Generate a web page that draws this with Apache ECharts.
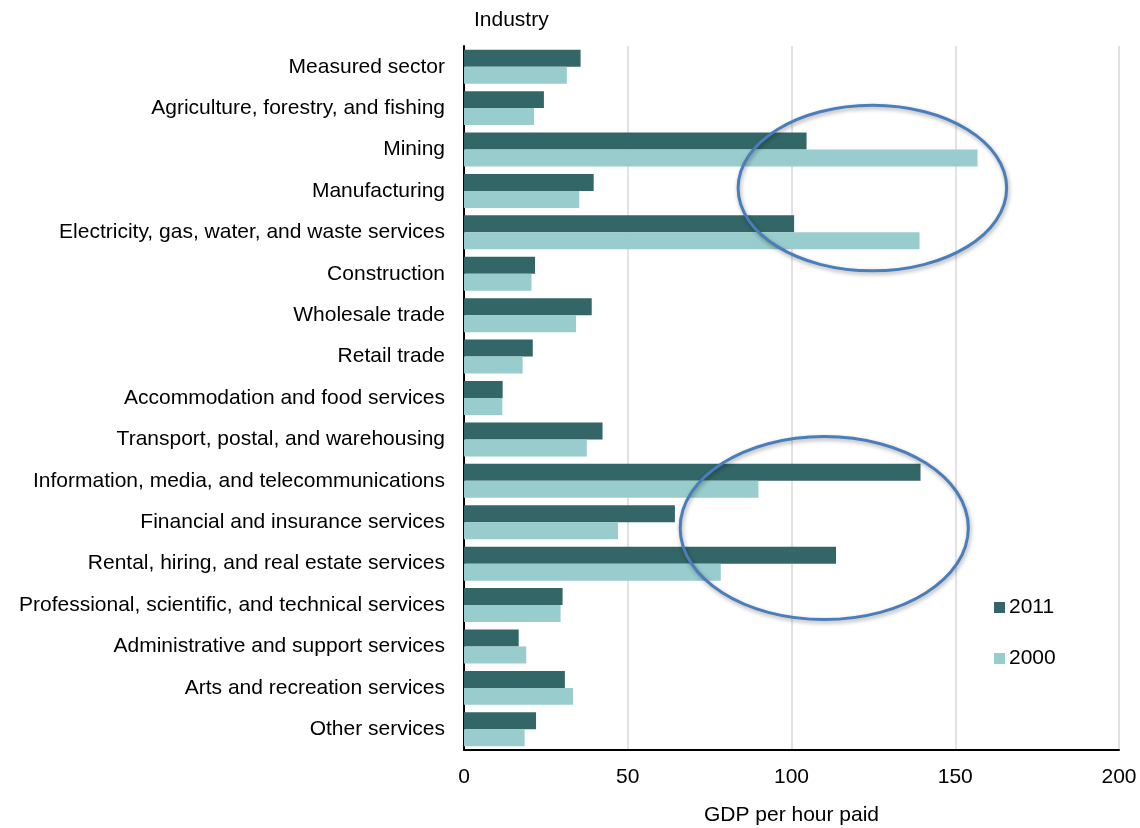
<!DOCTYPE html>
<html>
<head>
<meta charset="utf-8">
<script src="https://cdn.jsdelivr.net/npm/echarts@6/dist/echarts.min.js"></script>
<style>
  html, body { margin: 0; padding: 0; background: #fff; }
  #chart { width: 1140px; height: 828px; }
</style>
</head>
<body>
<div id="chart"></div>
<script>
// Industries, listed top to bottom
const industries = [
  'Measured sector',
  'Agriculture, forestry, and fishing',
  'Mining',
  'Manufacturing',
  'Electricity, gas, water, and waste services',
  'Construction',
  'Wholesale trade',
  'Retail trade',
  'Accommodation and food services',
  'Transport, postal, and warehousing',
  'Information, media, and telecommunications',
  'Financial and insurance services',
  'Rental, hiring, and real estate services',
  'Professional, scientific, and technical services',
  'Administrative and support services',
  'Arts and recreation services',
  'Other services'
];

// GDP per hour paid
const gdp2011 = [35.6, 24.4, 104.6, 39.6, 100.8, 21.7, 39.0, 21.0, 11.8, 42.3, 139.4, 64.4, 113.6, 30.1, 16.7, 30.8, 22.0];
const gdp2000 = [31.4, 21.4, 156.8, 35.2, 139.1, 20.6, 34.2, 17.9, 11.7, 37.5, 89.9, 47.0, 78.4, 29.5, 19.0, 33.3, 18.5];

const seriesNames = ['2011', '2000'];
const xTicks = [0, 50, 100, 150, 200];

// Highlight rings, in data units: centre value, centre category position, half-width (value), half-height (categories)
const rings = [
  { value: 124.7, band: 3.43, rx: 41, ry: 2.0 },
  { value: 110.0, band: 11.64, rx: 44, ry: 2.21 }
];

const FONT = '"Liberation Sans", Arial, sans-serif';
const FS = 21;
const DARK = '#336666';
const LIGHT = '#99cccc';

const chart = echarts.init(document.getElementById('chart'));

chart.setOption({
  animation: false,
  textStyle: { fontFamily: FONT },
  title: {
    text: 'Industry',
    left: 474,
    top: 10,
    padding: 0,
    textStyle: { fontFamily: FONT, fontSize: FS, fontWeight: 'normal', color: '#000' }
  },
  legend: {
    orient: 'vertical',
    left: 994,
    top: 597,
    padding: 0,
    itemGap: 30,
    itemWidth: 11,
    itemHeight: 11,
    icon: 'rect',
    data: seriesNames,
    textStyle: { fontFamily: FONT, fontSize: FS, color: '#000', padding: [0, 0, 0, -1] }
  },
  grid: { left: 464, right: 21, top: 46, bottom: 78, containLabel: false, outerBoundsMode: 'none' },
  xAxis: {
    type: 'value',
    min: xTicks[0],
    max: xTicks[xTicks.length - 1],
    interval: 50,
    name: 'GDP per hour paid',
    nameLocation: 'middle',
    nameGap: 55,
    nameTextStyle: { fontFamily: FONT, fontSize: FS, color: '#000' },
    axisLine: { show: true, lineStyle: { color: '#000', width: 2 } },
    axisTick: { show: false },
    axisLabel: { fontFamily: FONT, fontSize: FS, color: '#000', margin: 17 },
    splitLine: { show: true, lineStyle: { color: '#d9d9d9', width: 1.5 } }
  },
  yAxis: {
    type: 'category',
    inverse: true,
    data: industries,
    axisLine: { show: true, lineStyle: { color: '#000', width: 2 } },
    axisTick: { show: false },
    axisLabel: { fontFamily: FONT, fontSize: FS, color: '#000', margin: 19, interval: 0 },
    splitLine: { show: false }
  },
  series: [
    {
      name: seriesNames[0],
      type: 'bar',
      data: gdp2011,
      itemStyle: { color: DARK },
      barGap: '0%',
      barCategoryGap: '18%'
    },
    {
      name: seriesNames[1],
      type: 'bar',
      data: gdp2000,
      itemStyle: { color: LIGHT },
      barGap: '0%',
      barCategoryGap: '18%'
    }
  ]
});

// Place the highlight rings through the chart's own scales
const bandHeight = chart.convertToPixel({ yAxisIndex: 0 }, industries[1]) -
                   chart.convertToPixel({ yAxisIndex: 0 }, industries[0]);
const yTop = chart.convertToPixel({ yAxisIndex: 0 }, industries[0]) - bandHeight / 2;
const unit = chart.convertToPixel({ xAxisIndex: 0 }, 1) - chart.convertToPixel({ xAxisIndex: 0 }, 0);

chart.setOption({
  graphic: rings.map(r => ({
    type: 'ellipse',
    z: 100,
    shape: {
      cx: chart.convertToPixel({ xAxisIndex: 0 }, r.value),
      cy: yTop + r.band * bandHeight,
      rx: r.rx * unit,
      ry: r.ry * bandHeight
    },
    style: {
      fill: 'none',
      stroke: '#4a7ebb',
      lineWidth: 3,
      shadowBlur: 4,
      shadowColor: 'rgba(0,0,0,0.35)',
      shadowOffsetX: 1,
      shadowOffsetY: 2
    }
  }))
});
</script>
</body>
</html>
